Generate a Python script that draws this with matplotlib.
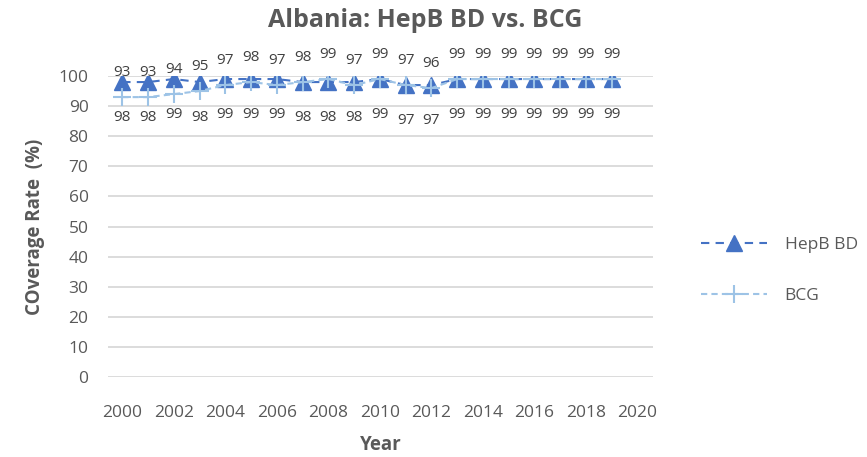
import matplotlib
matplotlib.use('Agg')
import matplotlib.pyplot as plt

plt.rcParams['font.family'] = ['Open Sans', 'DejaVu Sans']

years = list(range(2000, 2020))
hepb_bd = [98, 98, 99, 98, 99, 99, 99, 98, 98, 98, 99, 97, 97, 99, 99, 99, 99, 99, 99, 99]
bcg = [93, 93, 94, 95, 97, 98, 97, 98, 99, 97, 99, 97, 96, 99, 99, 99, 99, 99, 99, 99]

text_col = '#595959'
fig = plt.figure(figsize=(8.67, 4.57), dpi=100)
ax = fig.add_axes([0.1246, 0.175, 0.6286, 0.6586])

ax.plot(years, hepb_bd, linestyle=(0, (4, 3)), color='#4472C4', lw=1.5,
        marker='^', markersize=11, label='HepB BD', zorder=3)
ax.plot(years, bcg, linestyle=(0, (3, 2)), color='#9DC3E6', lw=1.5,
        marker='+', markersize=13, markeredgewidth=1.5, label='BCG', zorder=4)

for x, y in zip(years, bcg):
    ax.annotate(str(y), (x, y), xytext=(0, 12), textcoords='offset points',
                ha='center', va='bottom', fontsize=11, color='#404040')
for x, y in zip(years, hepb_bd):
    ax.annotate(str(y), (x, y), xytext=(0, -20), textcoords='offset points',
                ha='center', va='top', fontsize=11, color='#404040')

ax.set_xlim(1999.45, 2020.6)
ax.set_ylim(0, 100)
ax.set_xticks(range(2000, 2021, 2))
ax.set_yticks(range(0, 101, 10))
ax.yaxis.grid(True, color='#D9D9D9', lw=1.3)
ax.set_axisbelow(True)
for s in ax.spines.values():
    s.set_visible(False)
ax.tick_params(length=0, labelsize=12.5, colors=text_col)
ax.tick_params(axis='y', pad=14)
ax.tick_params(axis='x', pad=20)

ax.set_xlabel('Year', fontsize=13.5, fontweight='bold', color=text_col, labelpad=10)
ax.set_ylabel('COverage Rate  (%)', fontsize=13.5, fontweight='bold', color=text_col, labelpad=10)
fig.text(0.49, 0.955, 'Albania: HepB BD vs. BCG', ha='center', va='center',
         fontsize=18, fontweight='bold', color=text_col)

leg = ax.legend(loc='center left', bbox_to_anchor=(1.06, 0.355), frameon=False,
                fontsize=12.5, handlelength=3.8, handletextpad=1.0, labelspacing=2.0)
for t in leg.get_texts():
    t.set_color(text_col)

fig.savefig('out.png', dpi=100)
